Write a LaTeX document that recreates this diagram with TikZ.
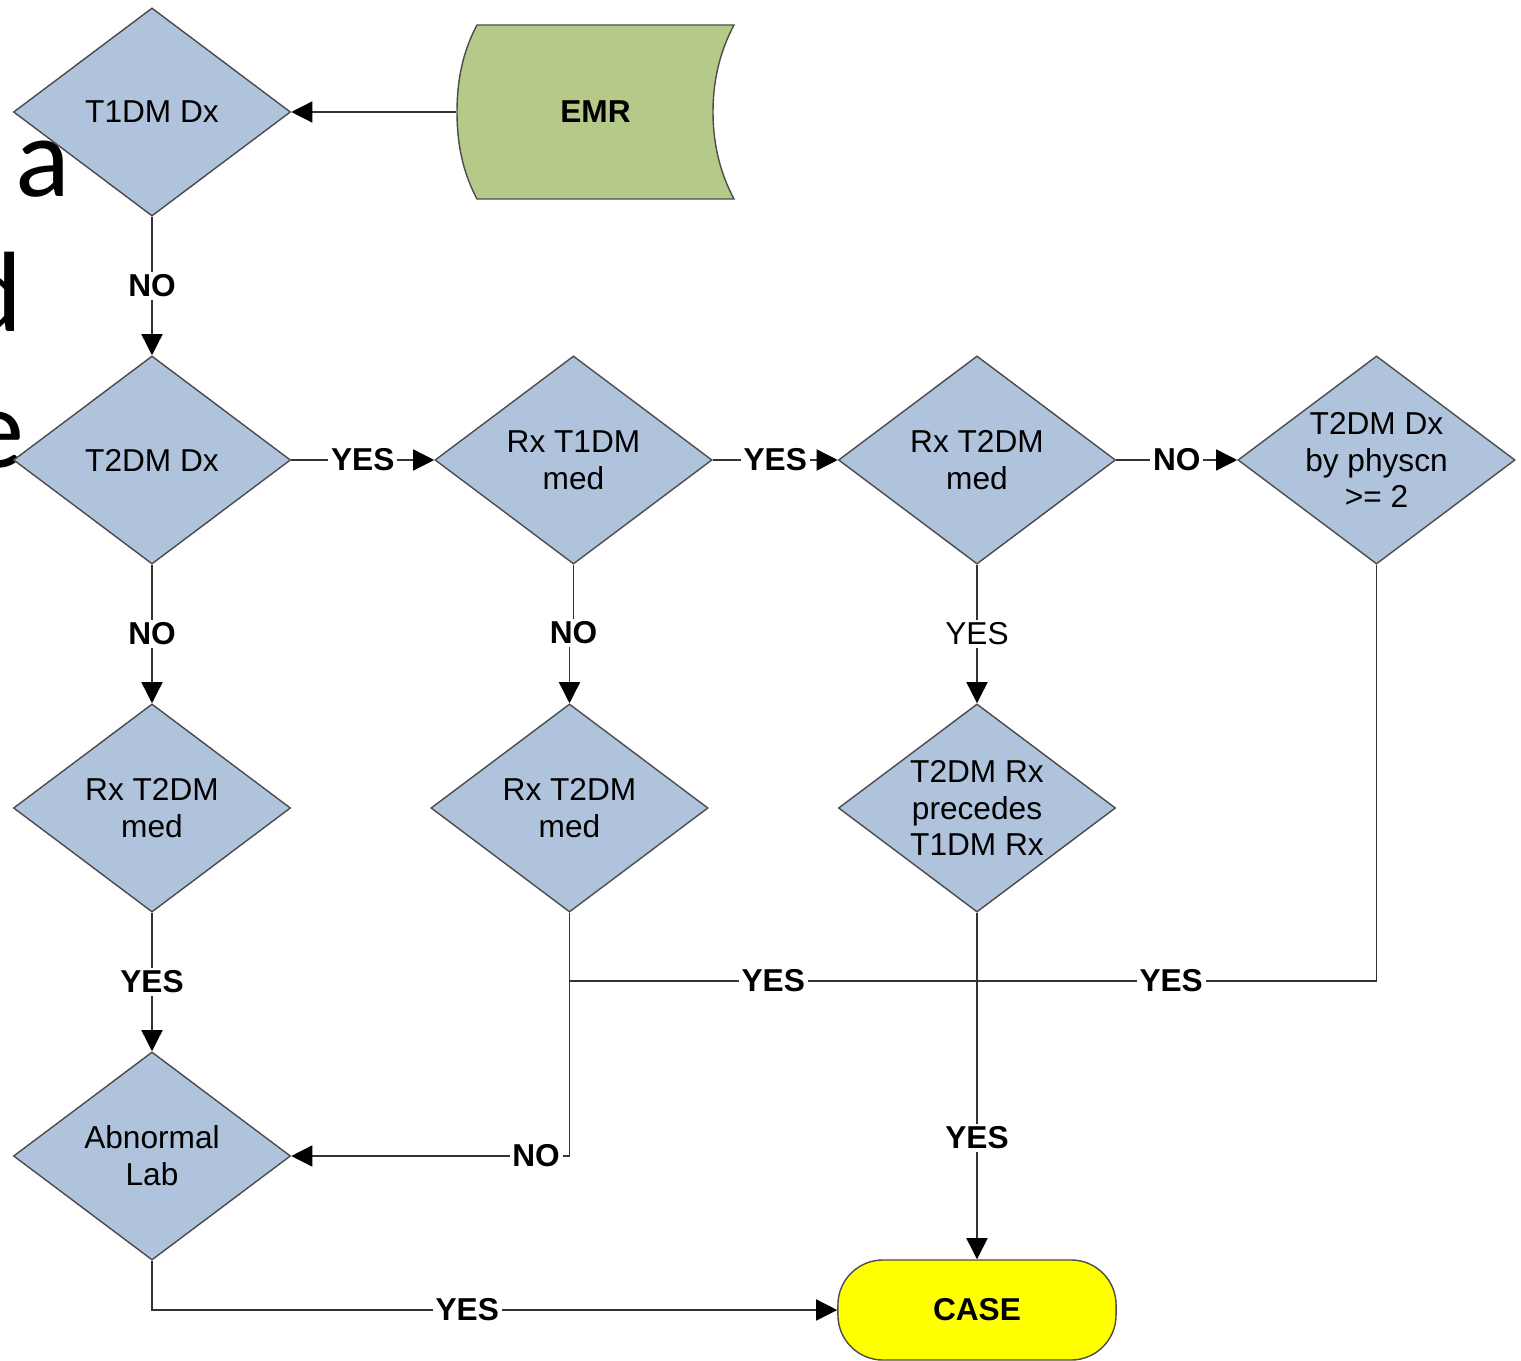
\documentclass[tikz,border=0pt]{standalone}
\usepackage{fontspec}
\setmainfont{Liberation Sans}
\newfontfamily\slidefont{Carlito}
\usetikzlibrary{shapes.geometric,arrows.meta}

\definecolor{dmblue}{RGB}{176,195,221}
\definecolor{emrgreen}{RGB}{181,202,136}
\definecolor{caseyellow}{RGB}{255,255,0}

\begin{document}
\begin{tikzpicture}[x=0.01cm,y=-0.01cm,
    decision/.style={diamond,draw=black!70,fill=dmblue,line width=0.4pt,
      minimum width=2.77cm,minimum height=2.08cm,aspect=1.34,inner sep=0pt,
      align=center,font=\fontsize{9}{10.5}\selectfont},
    terminal/.style={draw=black!70,fill=caseyellow,line width=0.4pt,
      rounded corners=0.45cm,minimum width=2.78cm,minimum height=1cm,
      font=\fontsize{9}{10.5}\selectfont\bfseries},
    conn/.style={draw=black!80,line width=0.4pt,
      -{Triangle[length=6pt,width=6pt,color=black,fill=black]}},
    link/.style={draw=black!80,line width=0.4pt},
    lbl/.style={fill=white,inner sep=0.8pt,font=\fontsize{9}{10.5}\selectfont\bfseries},
    lblplain/.style={lbl,font=\fontsize{9}{10.5}\selectfont},
    bigletter/.style={font=\slidefont\fontsize{32.5}{39}\selectfont,inner sep=0pt,anchor=base west}]
  \useasboundingbox (0,0) rectangle (1521,1361);

  \node[bigletter] (bga) at (15,197) {a};
  \node[bigletter] (bgd) at (-38,332) {d};
  \node[bigletter] (bge) at (-33,468) {e};

  \draw[draw=black!70,fill=emrgreen,line width=0.4pt] (477,25) -- (734,25)
    .. controls (718,55) and (713,85) .. (713,112)
    .. controls (713,139) and (718,169) .. (734,199) -- (477,199)
    .. controls (461,169) and (457,139) .. (457,112)
    .. controls (457,85) and (461,55) .. (477,25) -- cycle;
  \node[minimum width=2.77cm,minimum height=1.74cm,inner sep=0pt,
    font=\fontsize{9}{10.5}\selectfont\bfseries] (emr) at (595.5,112) {EMR};

  \node[decision] (t1dx) at (152,112) {T1DM Dx};
  \node[decision] (t2dx) at (152,460) {T2DM Dx};
  \node[decision] (rxt1) at (573.5,460) {Rx T1DM\\med};
  \node[decision] (rxt2) at (977,460) {Rx T2DM\\med};
  \node[decision] (physdx) at (1376.5,460) {T2DM Dx\\by physcn\\>= 2};
  \node[decision] (rxt2a) at (152,808) {Rx T2DM\\med};
  \node[decision] (rxt2b) at (569.5,808) {Rx T2DM\\med};
  \node[decision] (prec) at (977,808) {T2DM Rx\\precedes\\T1DM Rx};
  \node[decision] (abn) at (152,1156) {Abnormal\\Lab};
  \node[terminal] (case) at (977,1310) {CASE};
  \coordinate (merge) at (977,981);

  \draw[conn] (emr.west) -- (t1dx.east);
  \draw[conn] (t1dx.south) -- node[lbl]{NO} (t2dx.north);
  \draw[conn] (t2dx.east) -- node[lbl]{YES} (rxt1.west);
  \draw[conn] (rxt1.east) -- node[lbl]{YES} (rxt2.west);
  \draw[conn] (rxt2.east) -- node[lbl]{NO} (physdx.west);
  \draw[conn] (t2dx.south) -- node[lbl]{NO} (rxt2a.north);
  \draw[conn] (rxt1.south) -- ++(0,68) node[lbl]{NO} -| (rxt2b.north);
  \draw[conn] (rxt2.south) -- node[lblplain]{YES} (prec.north);
  \draw[conn] (rxt2a.south) -- node[lbl]{YES} (abn.north);
  \draw[link] (rxt2b.south) |- node[lbl,pos=0.75]{YES} (merge);
  \draw[link] (physdx.south) |- node[lbl,pos=0.757]{YES} (merge);
  \draw[conn] (rxt2b.south) |- node[lbl,pos=0.56]{NO} (abn.east);
  \draw[conn] (prec.south) -- node[lbl,pos=0.65]{YES} (case.north);
  \draw[conn] (abn.south) |- node[lbl,pos=0.73]{YES} (case.west);
\end{tikzpicture}
\end{document}
